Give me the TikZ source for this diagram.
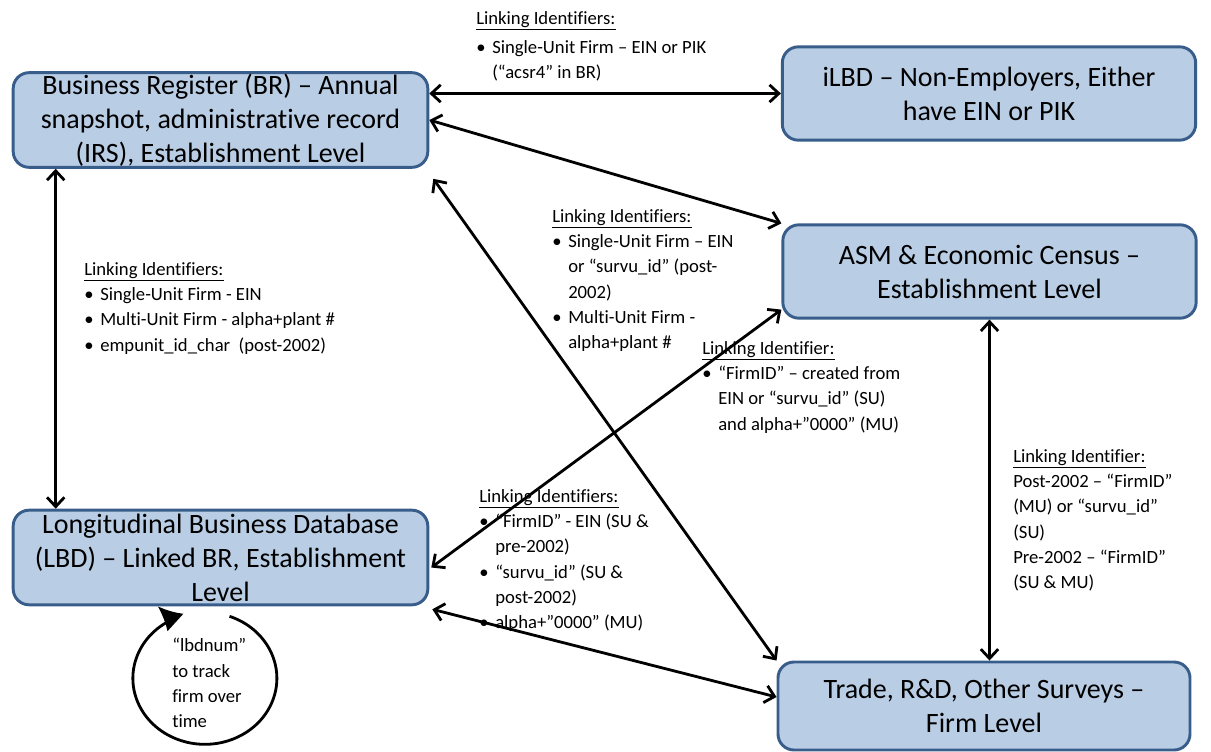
\documentclass[tikz,border=0pt]{standalone}
\usepackage{fontspec}
\setmainfont{Carlito}[Ligatures=CommonOff]
\usetikzlibrary{arrows.meta, positioning, calc}
\definecolor{boxfill}{RGB}{185,205,229}
\definecolor{boxline}{RGB}{56,93,138}
\newcommand{\itm}{\makebox[12pt][l]{\textbullet}}
\newcommand{\cnt}{\hspace*{12pt}}
\tikzset{
  dbox/.style={draw=boxline, fill=boxfill, line width=2.2pt, rounded corners=12pt, align=center, inner sep=0pt, font=\fontsize{21}{25.5}\selectfont},
  link/.style={line width=2.1pt, {Straight Barb[length=7pt,width=13pt]}-{Straight Barb[length=7pt,width=13pt]}},
  note/.style={anchor=north west, align=left, inner sep=0pt, font=\fontsize{14}{19}\selectfont},
}

\begin{document}
\begin{tikzpicture}[x=0.75pt, y=-0.75pt]
  \useasboundingbox (0,0) rectangle (1211,752);

  % data sets
  \node[dbox, minimum width=311pt, minimum height=71pt] (br) at (220.5,120) {Business Register (BR) – Annual\\ snapshot, administrative record\\ (IRS), Establishment Level};
  \node[dbox, minimum width=310pt, minimum height=70pt] (ilbd) at (989,93.5) {iLBD – Non-Employers, Either\\ have EIN or PIK};
  \node[dbox, minimum width=310pt, minimum height=70pt] (asm) at (989.5,271.5) {ASM \& Economic Census –\\ Establishment Level};
  \node[dbox, minimum width=311pt, minimum height=71pt] (lbd) at (220.5,557.5) {Longitudinal Business Database\\ (LBD) – Linked BR, Establishment\\ Level};
  \node[dbox, minimum width=309pt, minimum height=66pt] (trade) at (984,706) {Trade, R\&D, Other Surveys –\\ Firm Level};

  % links
  \draw[link] (br.east |- ilbd.west) -- (ilbd.west);
  \draw[link] (br.east) -- (asm.north west);
  \draw[link] ($(br.south east)+(4,10)$) -- (trade.north west);
  \draw[link] ($(br.south west)+(44,0)$) -- ($(lbd.north west)+(44,0)$);
  \draw[link] ($(asm.south west)+(0,-10)$) -- ($(lbd.east)+(2,10)$);
  \draw[link] ($(lbd.south east)+(3,3)$) -- ($(trade.west)+(0,-9)$);
  \draw[link] (asm.south) -- (asm.south |- trade.north);

  % lbdnum loop
  \coordinate (lpstart) at ($(lbd.south)+(9,10)$);
  \draw[line width=2.1pt, -{Latex[length=18pt,width=18pt]}] (lpstart) arc[start angle=-70, end angle=243, x radius=72, y radius=66] -- ($(lbd.south west)+(146,0)$);

  % identifiers
  \node[note] (lnk_il) at (476,11) {\underline{Linking Identifiers:}\\[3pt] \itm Single-Unit Firm – EIN or PIK\\ \cnt(“acsr4” in BR)};
  \node[note] (lnk_bl) at (84,262) {\underline{Linking Identifiers:}\\ \itm Single-Unit Firm - EIN\\ \itm Multi-Unit Firm - alpha+plant \#\\ \itm empunit\_id\_char~ (post-2002)};
  \node[note] (lnk_ba) at (552,209) {\underline{Linking Identifiers:}\\ \itm Single-Unit Firm – EIN\\ \cnt or “survu\_id” (post-\\ \cnt 2002)\\ \itm Multi-Unit Firm -\\ \cnt alpha+plant \#};
  \node[note] (lnk_al) at (702,341) {\underline{Linking Identifier:}\\ \itm “FirmID” – created from\\ \cnt EIN or “survu\_id” (SU)\\ \cnt and alpha+”0000” (MU)};
  \node[note] (lnk_lt) at (479,489) {\underline{Linking Identifiers:}\\ \itm “FirmID” - EIN (SU \&\\ \cnt pre-2002)\\ \itm “survu\_id” (SU \&\\ \cnt post-2002)\\ \itm alpha+”0000” (MU)};
  \node[note] (lnk_at) at (1013,449) {\underline{Linking Identifier:}\\ Post-2002 – “FirmID”\\ (MU) or “survu\_id”\\ (SU)\\ Pre-2002 – “FirmID”\\ (SU \& MU)};
  \node[note] (lbdnum) at (172,638) {“lbdnum”\\ to track\\ firm over\\ time};
\end{tikzpicture}
\end{document}
